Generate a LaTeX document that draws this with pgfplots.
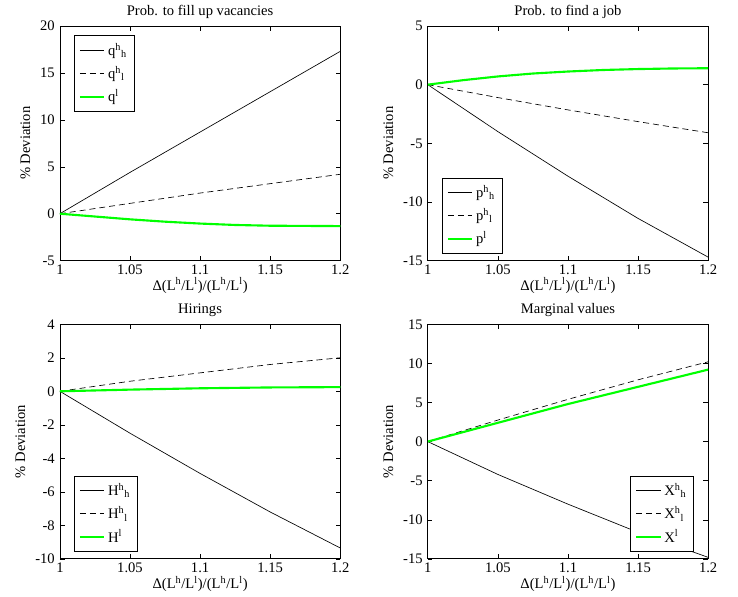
\documentclass[border=0pt]{standalone}
\usepackage{fontspec}
\setmainfont{Liberation Serif}
\usepackage{pgfplots}
\pgfplotsset{compat=1.18}
\usepgfplotslibrary{groupplots}
\newcommand{\SupSub}[3]{#1\textsuperscript{#2}\textsubscript{#3}}
\definecolor{mgreen}{rgb}{0,1,0}
\begin{document}
\fontsize{11}{13}\selectfont
\begin{tikzpicture}
\begin{groupplot}[
  group style={group size=2 by 2, horizontal sep=66pt, vertical sep=48pt},
  scale only axis, width=211.5pt, height=177pt,
  xmin=1, xmax=1.2,
  xtick={1,1.05,1.1,1.15,1.2},
  xticklabels={1,1.05,1.1,1.15,1.2},
  tick align=inside, major tick length=3.5pt,
  tick style={line width=0.4pt, black},
  axis line style={line width=0.6pt},
  /pgf/number format/assume math mode=true,
  tick label style={font=\fontsize{11}{13}\selectfont},
  xticklabel style={yshift=1pt},
  label style={font=\fontsize{11}{13}\selectfont},
  title style={font=\fontsize{11}{13}\selectfont, yshift=-4pt},
  ylabel={\% Deviation},
  xlabel={Δ(L\textsuperscript{h}/L\textsuperscript{l})/(L\textsuperscript{h}/L\textsuperscript{l})},
  xlabel style={yshift=5pt},
  ylabel style={yshift=0pt},
  legend cell align=left,
  legend style={font=\fontsize{11}{13}\selectfont, draw=black, line width=0.5pt, inner sep=3.5pt, row sep=2.5pt},
  legend image code/.code={\draw[#1] (0cm,0cm) -- (0.65cm,0cm);},
  hline/.style={black, line width=0.5pt},
  dline/.style={black, line width=0.5pt, dash pattern=on 4.5pt off 3pt},
  gline/.style={mgreen, line width=1.6pt},
]
\nextgroupplot[title={Prob. to fill up vacancies}, ymin=-5, ymax=20, ytick={-5,0,5,10,15,20},
  legend style={at={(0.05,0.96)}, anchor=north west}]
\addplot[hline] coordinates {(1,0) (1.05,4.4) (1.1,8.7) (1.15,13.0) (1.2,17.3)};
\addplot[dline] coordinates {(1,0) (1.05,1.1) (1.1,2.2) (1.15,3.2) (1.2,4.2)};
\addplot[gline] coordinates {(1,0) (1.025,-0.3) (1.05,-0.6) (1.075,-0.85) (1.1,-1.05) (1.125,-1.2) (1.15,-1.28) (1.175,-1.3) (1.2,-1.32)};
\legend{\SupSub{q}{h}{h},\SupSub{q}{h}{l},q\textsuperscript{l}}

\nextgroupplot[title={Prob. to find a job}, ymin=-15, ymax=5, ytick={-15,-10,-5,0,5},
  legend style={at={(0.05,0.03)}, anchor=south west}]
\addplot[hline] coordinates {(1,0) (1.05,-4.0) (1.1,-7.8) (1.15,-11.4) (1.2,-14.7)};
\addplot[dline] coordinates {(1,0) (1.05,-1.1) (1.1,-2.15) (1.15,-3.15) (1.2,-4.1)};
\addplot[gline] coordinates {(1,0) (1.025,0.38) (1.05,0.7) (1.075,0.95) (1.1,1.12) (1.125,1.25) (1.15,1.33) (1.175,1.38) (1.2,1.4)};
\legend{\SupSub{p}{h}{h},\SupSub{p}{h}{l},p\textsuperscript{l}}

\nextgroupplot[title={Hirings}, ymin=-10, ymax=4, ytick={-10,-8,-6,-4,-2,0,2,4},
  legend style={at={(0.05,0.03)}, anchor=south west}]
\addplot[hline] coordinates {(1,0) (1.05,-2.5) (1.1,-4.9) (1.15,-7.2) (1.2,-9.35)};
\addplot[dline] coordinates {(1,0) (1.05,0.6) (1.1,1.1) (1.15,1.6) (1.2,2.0)};
\addplot[gline] coordinates {(1,0) (1.05,0.1) (1.1,0.18) (1.15,0.23) (1.2,0.25)};
\legend{\SupSub{H}{h}{h},\SupSub{H}{h}{l},H\textsuperscript{l}}

\nextgroupplot[title={Marginal values}, ymin=-15, ymax=15, ytick={-15,-10,-5,0,5,10,15},
  legend style={at={(0.95,0.03)}, anchor=south east}]
\addplot[hline] coordinates {(1,0) (1.05,-4.2) (1.1,-8.0) (1.15,-11.6) (1.2,-14.8)};
\addplot[dline] coordinates {(1,0) (1.05,2.75) (1.1,5.4) (1.15,7.9) (1.2,10.2)};
\addplot[gline] coordinates {(1,0) (1.05,2.4) (1.1,4.8) (1.15,7.0) (1.2,9.2)};
\legend{\SupSub{X}{h}{h},\SupSub{X}{h}{l},X\textsuperscript{l}}
\end{groupplot}
\path ([xshift=12pt]current bounding box.north east);
\path ([xshift=-8pt]current bounding box.south west);
\end{tikzpicture}
\end{document}
